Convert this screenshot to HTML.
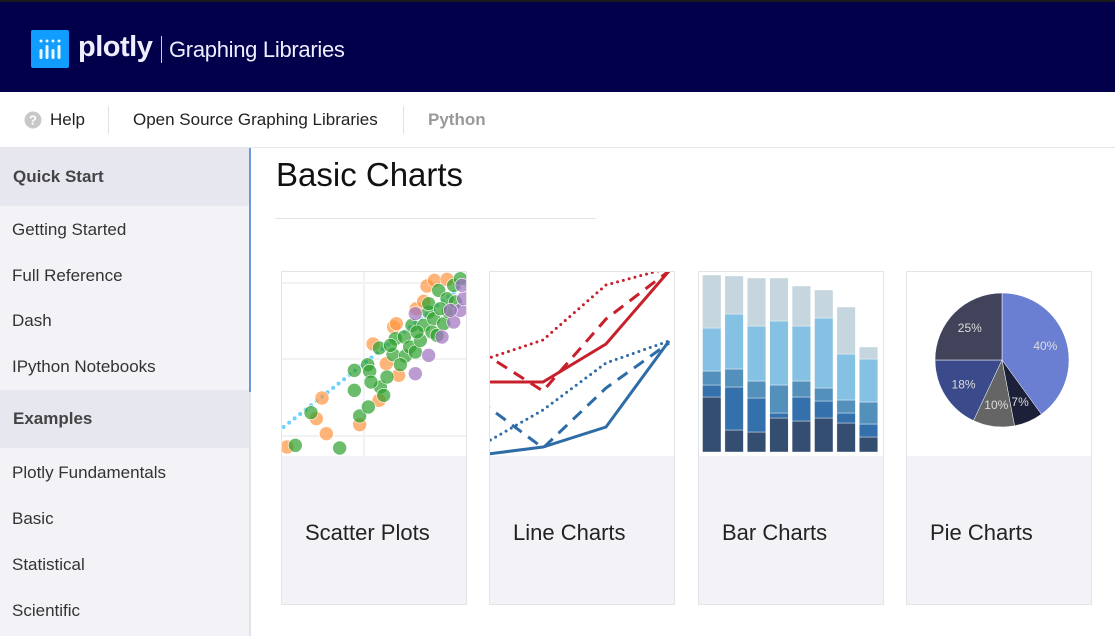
<!DOCTYPE html>
<html><head><meta charset="utf-8">
<style>
*{box-sizing:border-box;margin:0;padding:0}
body{width:1115px;height:636px;overflow:hidden;background:#fff;font-family:"Liberation Sans",sans-serif;position:relative}
.hdr{position:absolute;left:0;top:0;width:1115px;height:92px;background:#03004b;border-top:2px solid #1a1a1a}
.logo-icon{position:absolute;left:31px;top:28px;width:38px;height:38px;background:#119dff;border-radius:2px}
.plotly{position:absolute;left:78px;top:29px;color:#eef;font-size:29px;font-weight:bold;letter-spacing:-0.5px}
.vbar{position:absolute;left:161px;top:34px;width:1px;height:27px;background:#ccd}
.gl{position:absolute;left:169px;top:35px;color:#eef;font-size:22px;letter-spacing:-0.3px}
.nav{position:absolute;left:0;top:92px;width:1115px;height:56px;border-bottom:1px solid #e5e5ea;background:#fff}
.nav span{position:absolute;top:18px;font-size:17px;color:#222}
.sep{position:absolute;top:14px;width:1px;height:28px;background:#e2e2e6}
.side{position:absolute;left:0;top:148px;width:249px;height:488px;background:#f3f3f7}
.sh{position:absolute;left:0;width:249px;height:58px;background:#e7e8ef;font-weight:bold;font-size:17px;color:#444;padding:19px 0 0 13px}
.si{position:absolute;left:12px;font-size:17px;color:#333}
.title{position:absolute;left:276px;top:156px;font-size:33px;color:#111}
.card{position:absolute;top:271px;width:186px;height:334px;border:1px solid #e3e3e8;background:#f3f3f7}
.card svg{position:absolute;left:0;top:0;background:#fff}
.card .lbl{position:absolute;left:23px;top:248px;font-size:22px;color:#222}
</style></head><body>
<div class="hdr">
  <div class="logo-icon">
    <svg width="38" height="38"><g fill="#e8f6ff">
      <circle cx="10" cy="11" r="1.5"/><circle cx="16" cy="11" r="1.5"/><circle cx="22" cy="11" r="1.5"/><circle cx="28" cy="11" r="1.5"/>
      <rect x="8.5" y="19" width="3" height="10" rx="1.5"/><rect x="14.5" y="15" width="3" height="14" rx="1.5"/><rect x="20.5" y="19" width="3" height="10" rx="1.5"/><rect x="26.5" y="15" width="3" height="14" rx="1.5"/></g></svg>
  </div>
  <div class="plotly">plotly</div>
  <div class="vbar"></div>
  <div class="gl">Graphing Libraries</div>
</div>
<div class="nav">
  <svg style="position:absolute;left:24px;top:19px" width="18" height="18"><circle cx="9" cy="9" r="8.5" fill="#c8c8c8"/><text x="9" y="13.5" text-anchor="middle" font-size="13" font-weight="bold" fill="#fff" font-family="Liberation Sans">?</text></svg>
  <span style="left:50px">Help</span>
  <div class="sep" style="left:108px"></div>
  <span style="left:133px">Open Source Graphing Libraries</span>
  <div class="sep" style="left:403px"></div>
  <span style="left:428px;color:#999;font-weight:bold">Python</span>
</div>
<div class="side">
  <div class="sh" style="top:0">Quick Start</div>
  <div class="si" style="top:72px">Getting Started</div>
  <div class="si" style="top:118px">Full Reference</div>
  <div class="si" style="top:163px">Dash</div>
  <div class="si" style="top:209px">IPython Notebooks</div>
  <div class="sh" style="top:242px">Examples</div>
  <div class="si" style="top:315px">Plotly Fundamentals</div>
  <div class="si" style="top:361px">Basic</div>
  <div class="si" style="top:407px">Statistical</div>
  <div class="si" style="top:453px">Scientific</div>
</div>
<div style="position:absolute;left:249px;top:148px;width:2px;height:244px;background:#6f96dd"></div>
<div style="position:absolute;left:249px;top:392px;width:2px;height:244px;background:#e2e2e8"></div>
<div class="title">Basic Charts</div>
<div style="position:absolute;left:275px;top:218px;width:321px;height:1px;background:#e3e3e8"></div>

<div class="card" style="left:281px"><svg id="sc" width="184" height="184"></svg><div class="lbl">Scatter Plots</div></div>
<div class="card" style="left:489px"><svg id="ln" width="184" height="184"></svg><div class="lbl">Line Charts</div></div>
<div class="card" style="left:698px"><svg id="br" width="184" height="184"></svg><div class="lbl">Bar Charts</div></div>
<div class="card" style="left:906px"><svg id="pi" width="184" height="184"></svg><div class="lbl">Pie Charts</div></div>

<script>
const NS="http://www.w3.org/2000/svg";
// scatter data
const orangeX=[20,108,138,125,238,296,278,340,318,355,408,440,462,500,430,348];
const orangeY=[545,460,505,398,478,405,236,185,295,330,130,62,45,42,108,175];
const greenX=[45,178,92,238,222,264,222,262,268,300,310,272,297,338,345,372,375,360,388,405,420,395,430,445,460,475,500,520,455,410,470,490,505,540,320,330,445,525,480];
const greenY=[540,548,442,452,375,425,315,298,318,365,390,350,248,268,220,215,272,298,245,260,225,180,180,140,160,75,100,60,200,200,210,175,140,40,335,240,115,110,130];
const purpleX=[445,405,485,520,540,550,510,405,545];
const purpleY=[270,325,215,170,135,100,135,145,60];
// line data
const lineCats=[0,1,2,3];
const redSolid=[74,74,112,185];
const redDash=[105,65,137,185];
const redDot=[95,116,171,188];
const blueSolid=[1,9,29,115];
const blueDash=[55,8,68,113];
const blueDot=[10,46,93,115];
// bar data (stack bottom->top)
const barCats=[1,2,3,4,5,6,7,8];
const s1=[55,22,20,34,31,34,29,15];
const s2=[12,43,34,5,24,17,10,13];
const s3=[14,18,17,28,16,13,13,22];
const s4=[43,55,55,64,55,70,46,43];
const s5=[53,38,48,43,40,28,47,12];
// pie data
const pieVals=[40,7,10,18,25];
const pieLabels=["40%","7%","10%","18%","25%"];

function mk(p,t,a){const e=document.createElementNS(NS,t);for(const k in a)e.setAttribute(k,a[k]);p.appendChild(e);return e;}

// scatter
(function(){
 const s=document.getElementById('sc');
 const sx=v=>(v-5)/3, sy=v=>(v-20)/3;
 mk(s,'line',{x1:82,y1:0,x2:82,y2:184,stroke:'#f2f2f2','stroke-width':2});
 [11,87,164].forEach(y=>mk(s,'line',{x1:0,y1:y,x2:184,y2:y,stroke:'#f2f2f2','stroke-width':2}));
 mk(s,'line',{x1:sx(10),y1:sy(485),x2:sx(560),y2:sy(50),stroke:'#6fd0ff','stroke-width':4,'stroke-dasharray':'0 7','stroke-linecap':'round'});
 function pts(X,Y,c,nm){X.forEach((x,i)=>{const e=mk(s,'circle',{cx:sx(x),cy:sy(Y[i]),r:7,fill:c,'fill-opacity':0.7,stroke:'#fff','stroke-width':0.6});
 
 });}
 pts(orangeX,orangeY,'#ff9640','scatter-point-orange');
 pts(greenX,greenY,'#2ca02c','scatter-point-green');
 pts(purpleX,purpleY,'#a070c0','scatter-point-purple');
})();
// lines
(function(){
 const s=document.getElementById('ln');
 const x=i=>-10+63*i, y=v=>184-v;
 function ln(d,c,dash,nm){const e=mk(s,'polyline',{points:d.map((v,i)=>x(lineCats[i])+','+y(v)).join(' '),fill:'none',stroke:c,'stroke-width':3,'stroke-dasharray':dash,'stroke-linecap':dash==='0 6'?'round':'butt'});
 
 }
 ln(redSolid,'#c8202a','','line-red-solid');
 ln(redDash,'#c8202a','12 8','line-red-dashed');
 ln(redDot,'#c8202a','0 6','line-red-dotted');
 ln(blueSolid,'#2e6ca8','','line-blue-solid');
 ln(blueDash,'#2e6ca8','12 8','line-blue-dashed');
 ln(blueDot,'#2e6ca8','0 6','line-blue-dotted');
})();
// bars
(function(){
 const s=document.getElementById('br');
 const cols=['#344e72','#3471ac','#5490bc','#85c1e3','#c5d6de'];
 const stacks=[s1,s2,s3,s4,s5];
 const x=c=>3.5+(c-1)*22.4, base=180;
 barCats.forEach((c,i)=>{let acc=0;stacks.forEach((st,k)=>{const r=mk(s,'rect',{x:x(c),y:base-acc-st[i],width:18.5,height:st[i],fill:cols[k],stroke:'#fff','stroke-width':0.4});
 
 
 acc+=st[i];});});
})();
// pie
(function(){
 const s=document.getElementById('pi');
 const cols=['#6a7fd2','#1c2038','#656565','#3a4a8a','#40435a'];
 const cx=95,cy=88,r=67;const tot=pieVals.reduce((a,b)=>a+b,0);let a0=0;
 pieVals.forEach((v,i)=>{const a1=a0+v/tot*2*Math.PI;
  const p=(a)=>[cx+r*Math.sin(a),cy-r*Math.cos(a)];
  const [x0,y0]=p(a0),[x1,y1]=p(a1);
  const e=mk(s,'path',{d:`M${cx},${cy}L${x0},${y0}A${r},${r} 0 ${a1-a0>Math.PI?1:0} 1 ${x1},${y1}Z`,fill:cols[i],stroke:'#fff','stroke-width':0.5});
  
  
  const am=(a0+a1)/2,lr=r*0.68;
  const t=mk(s,'text',{x:cx+lr*Math.sin(am),y:cy-lr*Math.cos(am)+4,'text-anchor':'middle','font-size':12,fill:'#ddd','font-family':'Liberation Sans'});
  t.textContent=pieLabels[i];
  
  
  a0=a1;});
})();
</script>
</body></html>
